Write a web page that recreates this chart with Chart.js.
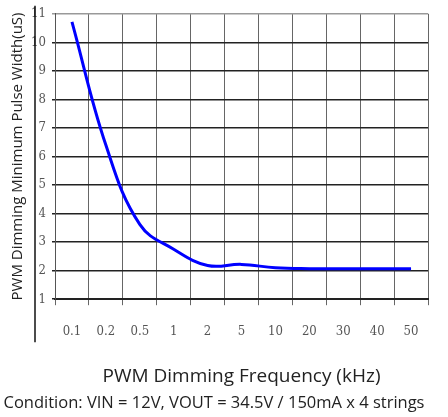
<!DOCTYPE html>
<html>
<head>
<meta charset="utf-8">
<script src="https://cdn.jsdelivr.net/npm/chart.js@4.4.1/dist/chart.umd.min.js"></script>
<style>
  html, body { margin: 0; padding: 0; background: #fff; }
  #wrap { width: 448px; height: 417px; }
</style>
</head>
<body>
<div id="wrap"><canvas id="pwmChart" width="448" height="417"></canvas></div>
<script>
// frequency categories (kHz)
const frequencies = ['0.1', '0.2', '0.5', '1', '2', '5', '10', '20', '30', '40', '50'];
// minimum pulse width (uS)
const pulseWidth = [10.72, 6.4, 3.62, 2.75, 2.18, 2.22, 2.1, 2.07, 2.07, 2.07, 2.07];
const yTicks = [1, 2, 3, 4, 5, 6, 7, 8, 9, 10, 11];

const tickFont = { family: "'DejaVu Serif Condensed', 'Liberation Serif', serif", size: 13 };

// the long vertical rule left of the y tick labels
const leftRule = {
    id: 'leftRule',
    afterDraw(chart) {
        const { ctx, chartArea } = chart;
        const x = chartArea.left - 20;
        ctx.save();
        ctx.strokeStyle = '#111';
        ctx.lineWidth = 1.5;
        ctx.beginPath();
        ctx.moveTo(x, chartArea.top - 8);
        ctx.lineTo(x, chartArea.bottom + 43);
        ctx.stroke();
        ctx.restore();
    }
};

const ctx = document.getElementById('pwmChart').getContext('2d');
new Chart(ctx, {
    type: 'line',
    data: {
        labels: frequencies,
        datasets: [{
            data: pulseWidth,
            borderColor: '#0000ff',
            borderWidth: 3,
            pointRadius: 0,
            tension: 0.4,
            fill: false
        }]
    },
    options: {
        responsive: false,
        animation: false,
        layout: { padding: { top: 11, right: 20, left: 0, bottom: 0 } },
        plugins: {
            legend: { display: false },
            tooltip: { enabled: false },
            title: {
                display: true,
                position: 'bottom',
                text: 'Condition: VIN = 12V, VOUT = 34.5V / 150mA x 4 strings',
                color: '#222',
                font: { family: "'Open Sans', sans-serif", size: 16.5, weight: 'normal', lineHeight: 1.2 },
                padding: { top: 0, bottom: 4 }
            }
        },
        scales: {
            x: {
                offset: true,
                grid: { offset: true, color: '#666', lineWidth: 1, tickLength: 6 },
                border: { color: '#222', width: 2 },
                ticks: { color: '#555', font: tickFont, padding: 19, maxRotation: 0 },
                title: {
                    display: true,
                    text: 'PWM Dimming Frequency (kHz)',
                    color: '#222',
                    font: { family: "'Open Sans', sans-serif", size: 19, lineHeight: 1.2 },
                    padding: { top: 0, bottom: 5 }
                },
                afterFit: s => { s.height = 94; }
            },
            y: {
                min: 1,
                max: 11,
                afterBuildTicks: s => { s.ticks = yTicks.map(v => ({ value: v })); },
                grid: {
                    color: c => (c.tick && c.tick.value === 11 ? '#999' : '#222'),
                    lineWidth: 1.5,
                    tickLength: 3
                },
                border: { color: '#555', width: 1 },
                ticks: { color: '#555', font: tickFont, padding: 6 },
                title: {
                    display: true,
                    text: 'PWM Dimming Minimum Pulse Width(uS)',
                    color: '#222',
                    font: { family: "'Open Sans', sans-serif", size: 15, lineHeight: 1.2 },
                    padding: { top: 9, bottom: 0 }
                },
                afterFit: s => { s.width = 55; }
            }
        }
    },
    plugins: [leftRule]
});
</script>
</body>
</html>
